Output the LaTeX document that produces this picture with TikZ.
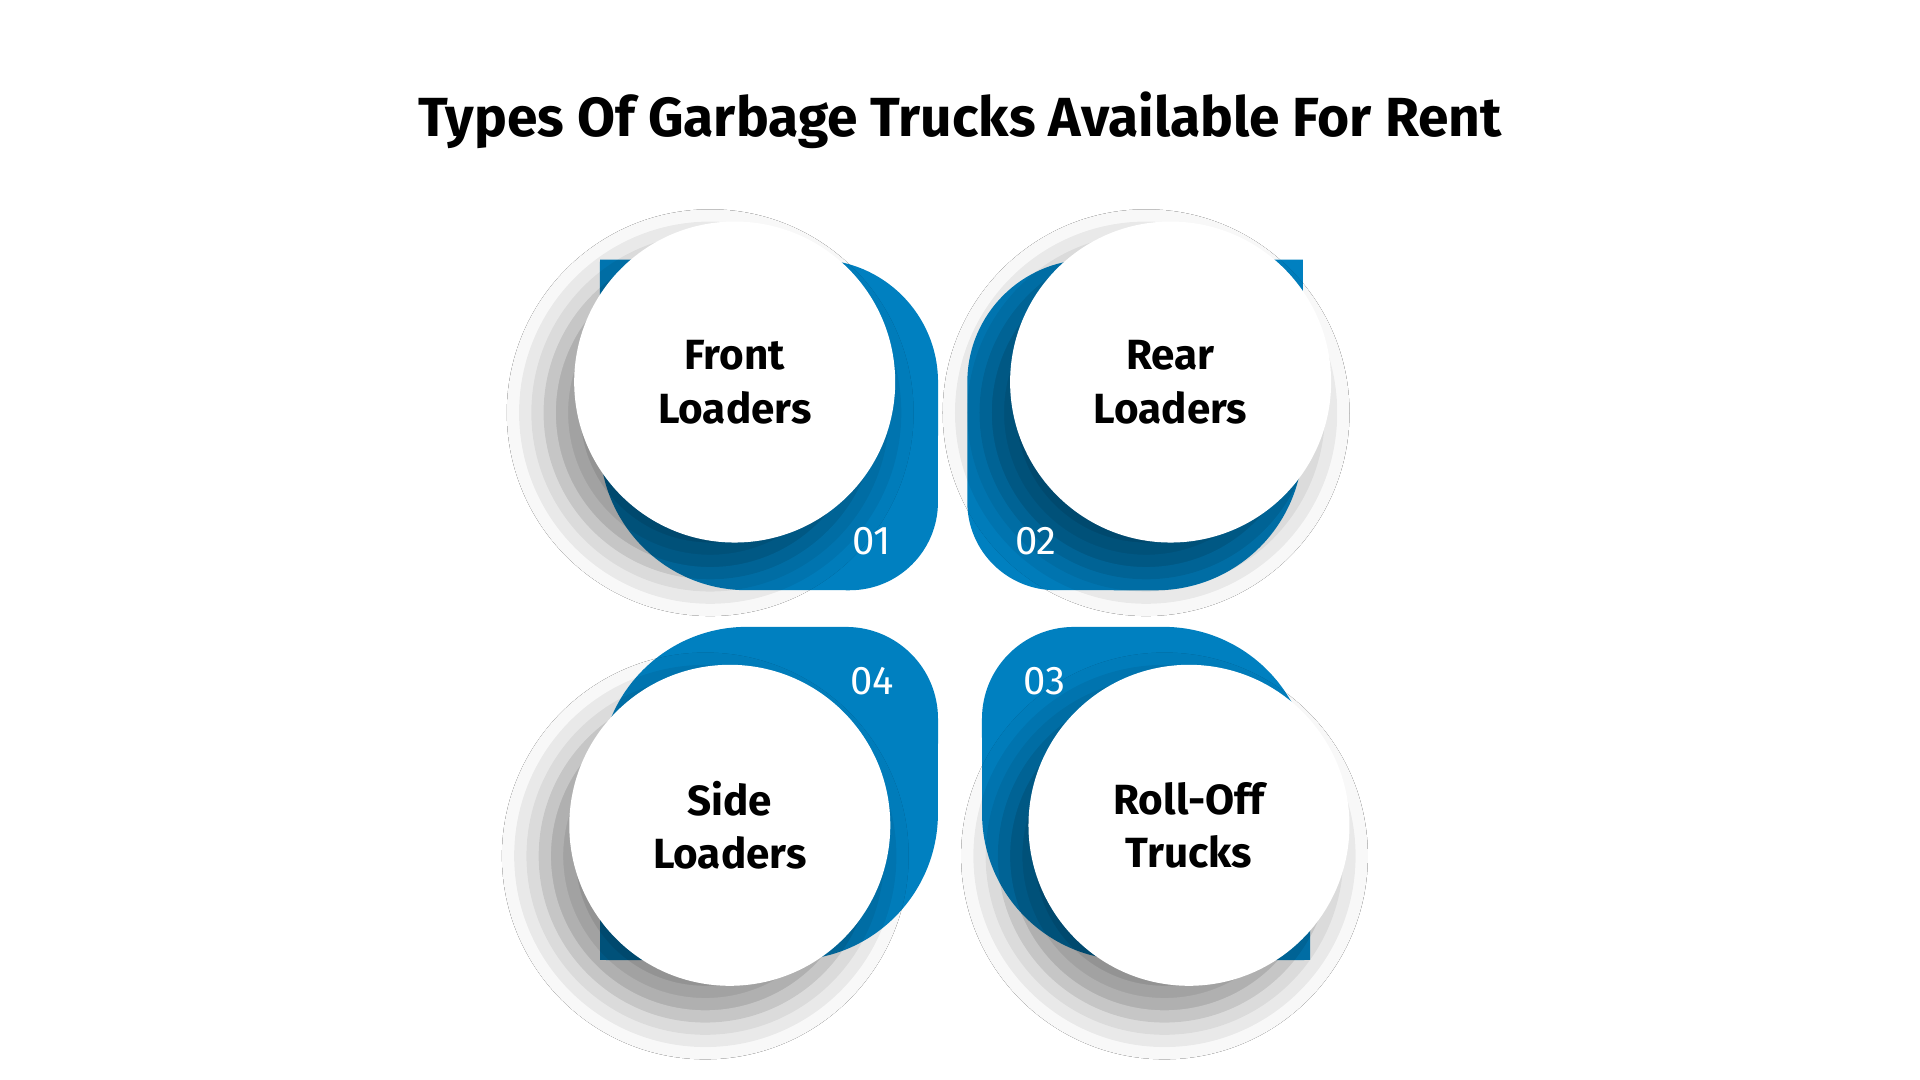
\documentclass[tikz,border=0pt]{standalone}
\usepackage{fontspec}
\setmainfont{Fira Sans}
\usetikzlibrary{shadows.blur}
\definecolor{tblue}{RGB}{0,128,192}
\begin{document}
\begin{tikzpicture}[x=0.01cm,y=-0.01cm,
  blob/.style={fill=tblue},
  ball/.style={circle,fill=white,minimum size=2.62cm,inner sep=0pt,align=center,
    font=\fontsize{9.8pt}{12.5pt}\selectfont\bfseries,
    blur shadow={shadow xshift=-0.2cm,shadow yshift=-0.25cm,shadow blur radius=0.35cm,shadow opacity=45}},
  num/.style={text=white,font=\fontsize{9.3pt}{11pt}\selectfont\medium}]
\providecommand\medium{}
\useasboundingbox[fill=white] (0,0) rectangle (1568,882);
\node (title) at (784,98) {\fontsize{12.8pt}{15pt}\selectfont\bfseries Types Of Garbage Trucks Available For Rent};
% blob 1
\fill[blob] (490,212) -- (666,212) arc[start angle=90,end angle=0,radius=1cm] -- (766,410) arc[start angle=0,end angle=-90,radius=0.72cm] -- (610,482) arc[start angle=-90,end angle=-180,radius=1.2cm] -- cycle;
% blob 2
\fill[blob] (1064,212) -- (1064,362) arc[start angle=0,end angle=-90,radius=1.2cm] -- (862,482) arc[start angle=-90,end angle=-180,radius=0.72cm] -- (790,312) arc[start angle=180,end angle=90,radius=1cm] -- cycle;
% blob 4
\fill[blob] (490,784) -- (490,632) arc[start angle=180,end angle=90,radius=1.2cm] -- (691,512) arc[start angle=90,end angle=0,radius=0.75cm] -- (766,664) arc[start angle=0,end angle=-90,radius=1.2cm] -- cycle;
% blob 3
\fill[blob] (1070,784) -- (1070,632) arc[start angle=0,end angle=90,radius=1.2cm] -- (877,512) arc[start angle=90,end angle=180,radius=0.75cm] -- (802,664) arc[start angle=180,end angle=270,radius=1.2cm] -- cycle;
\node[ball] (c1) at (600,312) {Front\\Loaders};
\node[ball] (c2) at (956,312) {Rear\\Loaders};
\node[ball] (c4) at (596,674) {Side\\Loaders};
\node[ball] (c3) at (971,674) {Roll-Off\\Trucks};
\node[num] (n1) at (712,442) {01};
\node[num] (n2) at (846,442) {02};
\node[num] (n4) at (712,556) {04};
\node[num] (n3) at (853,556) {03};
\end{tikzpicture}
\end{document}
